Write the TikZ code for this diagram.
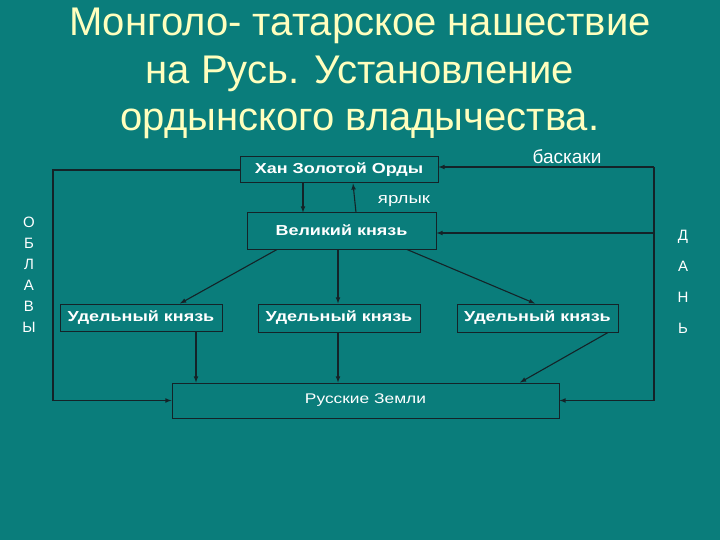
\documentclass[tikz,border=0pt]{standalone}
\usepackage{fontspec}
\setmainfont{Liberation Sans}
\usepackage{graphicx}
\usepackage{tikz}
\usetikzlibrary{positioning,calc}
\definecolor{slidebg}{RGB}{10,125,123}
\definecolor{titlecol}{RGB}{255,255,190}
\definecolor{linecol}{RGB}{20,35,40}
\newcommand{\wide}[1]{\scalebox{1.24}[1]{#1}}

\begin{document}
\begin{tikzpicture}[x=1pt, y=-1pt,
            box/.style={draw=linecol, line width=1pt, inner sep=0pt, text=white, font=\bfseries\fontsize{14.5}{16}\selectfont},
            plainlabel/.style={text=white, inner sep=0pt},
            conn/.style={->, >=latex, draw=linecol, line width=1.1pt}
        ]

        % background of the slide
        \fill[slidebg] (0,0) rectangle (720,540);
        \useasboundingbox (0,0) rectangle (720,540);

        % Title
        \node[text=titlecol, align=center, font=\fontsize{40}{47.5}\selectfont] (title) at (360,73.5) {Монголо- татарское нашествие\\на Русь. Установление\\ордынского владычества.};

        % Khan and grand prince
        \node[box, minimum width=198, minimum height=26] (khan) at (339,170) {\wide{Хан Золотой Орды}};
        \node[box, minimum width=189, minimum height=36] (velikiy) at (341.5,231) {\raisebox{2pt}{\wide{Великий князь}}};

        % Appanage princes
        \node[box, minimum width=162, minimum height=27] (udelL) at (141,317.5) {\wide{Удельный князь}};
        \node[box, minimum width=162, minimum height=28] (udelM) at (339,318) {\wide{Удельный князь}};
        \node[box, minimum width=161, minimum height=28] (udelR) at (537.5,318) {\wide{Удельный князь}};

        % Russian lands
        \node[box, font=\fontsize{14}{16}\selectfont, minimum width=387, minimum height=35] (zemli) at (365.5,400.5) {\raisebox{2pt}{\wide{Русские Земли}}};

        % Side labels
        \node[plainlabel, align=center, font=\fontsize{15}{21}\selectfont] (oblavy) at (29,275) {О\\Б\\Л\\А\\В\\Ы};
        \node[plainlabel, align=center, font=\fontsize{15}{31}\selectfont] (dan) at (683,282) {Д\\А\\Н\\Ь};
        \node[plainlabel, font=\fontsize{15}{18}\selectfont] (yarlyk) at (404,201) {\wide{ярлык}};
        \node[plainlabel, font=\fontsize{19}{20}\selectfont] (baskaki) at (567,157) {баскаки};

        % Frame lines
        \coordinate (leftedge) at (53,0);
        \coordinate (rightedge) at (654,0);

        % Khan <-> grand prince
        \draw[conn] ([xshift=-36pt]khan.south) -- ([xshift=-38.5pt]velikiy.north);
        \draw[conn] ([xshift=14.5pt]velikiy.north) -- ([xshift=14pt]khan.south);

        % Grand prince to appanage princes
        \draw[conn] ([xshift=-64.5pt]velikiy.south) -- ([xshift=39pt]udelL.north);
        \draw[conn] ([xshift=-3.5pt]velikiy.south) -- ([xshift=-1pt]udelM.north);
        \draw[conn] ([xshift=65.5pt]velikiy.south) -- ([xshift=-2.5pt]udelR.north);

        % Appanage princes to the lands
        \draw[conn] ([xshift=55pt]udelL.south) -- ([xshift=-169.5pt]zemli.north);
        \draw[conn] ([xshift=-1pt]udelM.south) -- ([xshift=-27.5pt]zemli.north);
        \draw[conn] ([xshift=70.5pt]udelR.south) -- ([xshift=154.5pt]zemli.north);

        % Raids on the left
        \draw[conn] (khan.west) -- (leftedge |- khan.west) |- (zemli.west);

        % Tribute on the right
        \draw[draw=linecol, line width=1.1pt] ([yshift=3pt]rightedge |- khan.east) -- (rightedge |- zemli.east);
        \draw[conn] ([yshift=3pt]rightedge |- khan.east) -- ([yshift=3pt]khan.east);
        \draw[conn] ([yshift=-2pt]rightedge |- velikiy.east) -- ([yshift=-2pt]velikiy.east);
        \draw[conn] (rightedge |- zemli.east) -- (zemli.east);

\end{tikzpicture}
\end{document}
